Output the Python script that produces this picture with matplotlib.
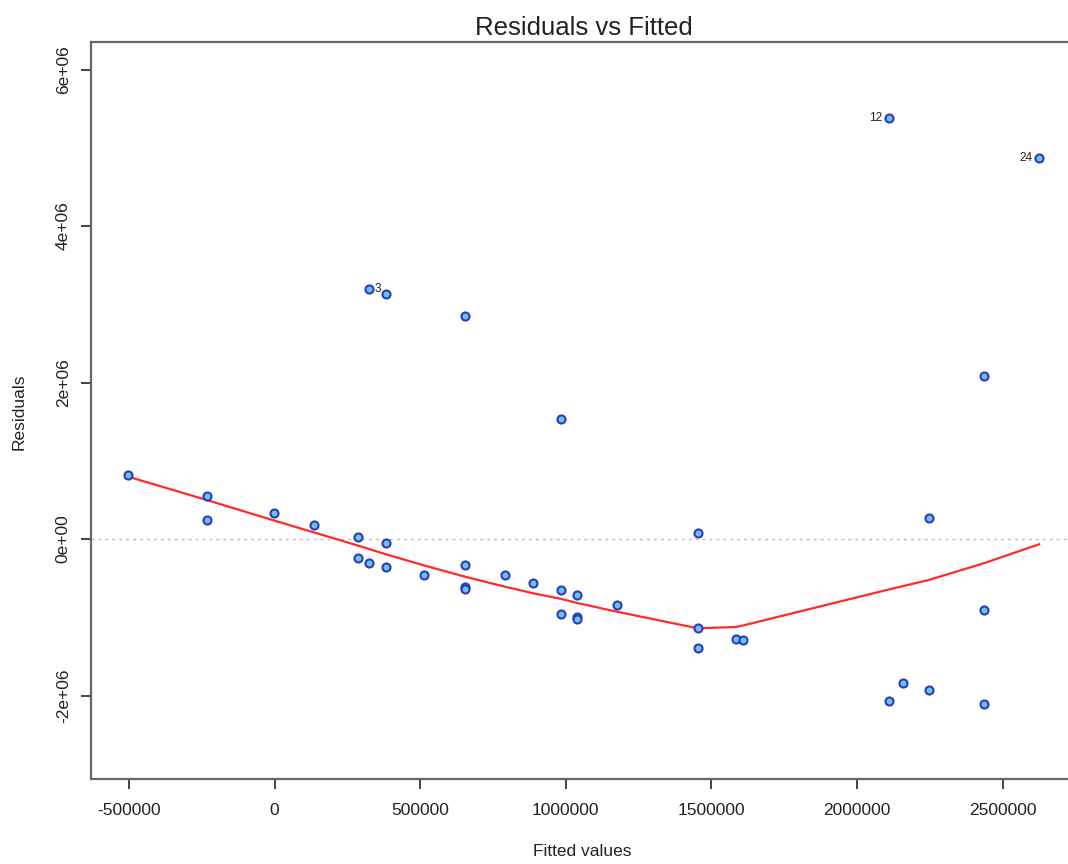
import numpy as np
import matplotlib
matplotlib.use("Agg")
import matplotlib.pyplot as plt

plt.rcParams["font.family"] = ["Liberation Sans", "DejaVu Sans"]

# valores (orden de observacion, 1..40)
fitted = [-232700, 285600, 324400, 653900, -501800, 982400, 1452600, 382700,
          2434300, 136600, 1039400, 2108300, -1700, 653900, 2245500, 514200,
          1584100, 382700, 888300, 2158400, -232700, 982400, 1175600, 2624300,
          285600, 1039400, 2434300, 653900, 324400, 1452600, 791200, 2108300,
          1607100, 382700, 982400, 2245500, 1039400, 653900, 1452600, 2434300]
residuals = [548800, 29400, 3190800, -331800, 816800, -650900, -1139700, -54900,
             -906200, 178700, -718600, 5386000, 328000, -608800, 264200, -463300,
             -1272500, 3127000, -565400, -1841700, 242500, 1531600, -846200, 4875500,
             -246300, -991700, 2080400, 2846100, -310100, 72800, -463300, -2063800,
             -1289100, -353500, -953400, -1931000, -1017200, -634300, -1395000, -2105900]

smooth_y = [796200, 498400, 236400, 83100, -83100, -127800, -195500, -338700,
            -481800, -609600, -694000, -764200, -817900, -929100, -1141300,
            -1124600, -1106000, -645400, -600700, -524000, -310600, -67700]

x_ticks = [-500000, 0, 500000, 1000000, 1500000, 2000000, 2500000]
y_ticks = [-2e6, 0, 2e6, 4e6, 6e6]
y_tick_labels = ["-2e+06", "0e+00", "2e+06", "4e+06", "6e+06"]

fx = np.array(fitted, float)
ry = np.array(residuals, float)
sx = np.unique(fx)

fig = plt.figure(figsize=(10.68, 8.64), dpi=100)
ax = fig.add_axes([91 / 1068, 85 / 864, 986 / 1068, 737 / 864])

ax.axhline(0, color="#b8b8b8", lw=1.0, ls=(0, (2, 3)), zorder=1)
ax.plot(fx, ry, "o", ms=5.8, mfc="#6ec3ee", mec="#2a3cb8", mew=1.5, zorder=3)
ax.plot(sx, smooth_y, color="#ff2a2a", lw=1.6, zorder=2)

# etiquetas de los 3 residuos mas grandes
top = np.argsort(-np.abs(ry))[:3]
mid = (fx.min() + fx.max()) / 2
for k in top:
    if fx[k] > mid:
        ax.annotate(str(k + 1), (fx[k], ry[k]), xytext=(-5, 0), textcoords="offset points",
                    ha="right", va="center", fontsize=8.5, color="#222222")
    else:
        ax.annotate(str(k + 1), (fx[k], ry[k]), xytext=(4, 0), textcoords="offset points",
                    ha="left", va="center", fontsize=8.5, color="#222222")

ax.set_xlim(-629900, 2754600)
ax.set_ylim(-3067000, 6351700)
ax.set_xticks(x_ticks)
ax.set_xticklabels([str(v) for v in x_ticks])
ax.set_yticks(y_ticks)
ax.set_yticklabels(y_tick_labels, rotation=90, va="center")

ax.tick_params(axis="both", direction="out", length=7.5, width=1.3, colors="#333333",
               labelsize=12.5, labelcolor="#222222")
ax.tick_params(axis="x", pad=10)
ax.tick_params(axis="y", pad=7)
for s in ax.spines.values():
    s.set_color("#666666")
    s.set_linewidth(1.6)

ax.set_title("Residuals vs Fitted", fontsize=18.5, color="#222222", pad=5)
ax.set_xlabel("Fitted values", fontsize=12.5, color="#222222", va="center")
ax.xaxis.set_label_coords((582 - 91) / 986, (779 - 852) / 737)
ax.set_ylabel("Residuals", fontsize=12.5, color="#222222", va="center")
ax.yaxis.set_label_coords((19 - 91) / 986, 0.5 - 1.5 / 737)

fig.savefig("out.png", dpi=100)
